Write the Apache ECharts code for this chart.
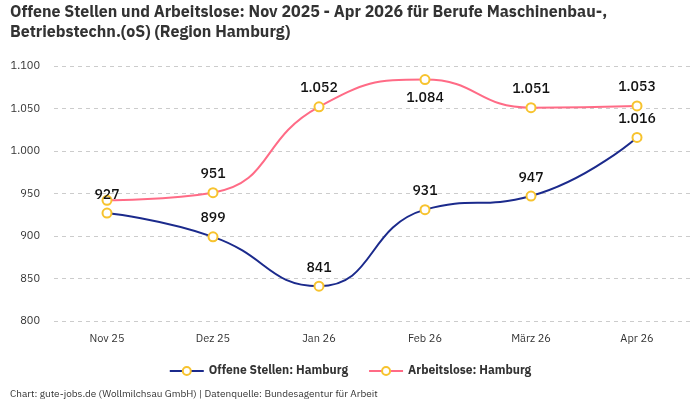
<!DOCTYPE html>
<html>
<head>
<meta charset="utf-8">
<script src="https://cdn.jsdelivr.net/npm/echarts@6/dist/echarts.min.js"></script>
<style>
  html, body { margin: 0; padding: 0; background: #fff; }
  #chart { width: 700px; height: 400px; }
</style>
</head>
<body>
<div id="chart"></div>
<script>
const months = ["Nov 25", "Dez 25", "Jan 26", "Feb 26", "März 26", "Apr 26"];
const offeneStellen = [927, 899, 841, 931, 947, 1016];
const arbeitslose = [942, 951, 1052, 1084, 1051, 1053];
const yTicks = { min: 800, max: 1100, interval: 50 };

const fmt = (v) => String(v).replace(/\B(?=(\d{3})+(?!\d))/g, ".");
const font = "'IBM Plex Sans', 'Noto Sans', sans-serif";

const chart = echarts.init(document.getElementById("chart"), null, { renderer: "canvas" });

const labelStyle = {
  show: true,
  position: "top",
  distance: 6,
  color: "#111",
  fontSize: 14,
  fontWeight: 500,
  fontFamily: font,
  formatter: (p) => fmt(p.value)
};

const option = {
  animation: false,
  textStyle: { fontFamily: font },
  title: {
    text: "Offene Stellen und Arbeitslose: Nov 2025 - Apr 2026 für Berufe Maschinenbau-,\nBetriebstechn.(oS) (Region Hamburg)",
    left: 5,
    top: -3,
    textStyle: { fontSize: 16, fontWeight: "bold", color: "#333", lineHeight: 20, fontFamily: font }
  },
  grid: { left: 54, right: 10, top: 66, bottom: 79 },
  legend: {
    bottom: 18,
    left: "center",
    itemWidth: 34,
    itemHeight: 10,
    itemGap: 20,
    textStyle: { fontSize: 12, fontWeight: "bold", color: "#333" },
    data: ["Offene Stellen: Hamburg", "Arbeitslose: Hamburg"]
  },
  xAxis: {
    type: "category",
    data: months,
    axisLine: { show: false },
    axisTick: { show: false },
    axisLabel: { color: "#333", fontSize: 11, margin: 12 }
  },
  yAxis: {
    type: "value",
    min: yTicks.min,
    max: yTicks.max,
    interval: yTicks.interval,
    axisLabel: { color: "#333", fontSize: 11, margin: 14, formatter: fmt },
    splitLine: { lineStyle: { color: "#ccc", type: [4, 4] } }
  },
  graphic: [{
    type: "text",
    left: 10,
    bottom: 1,
    style: { text: "Chart: gute-jobs.de (Wollmilchsau GmbH) | Datenquelle: Bundesagentur für Arbeit", fill: "#333", fontSize: 10, fontFamily: font }
  }],
  series: [
    {
      name: "Offene Stellen: Hamburg",
      type: "line",
      smooth: true,
      data: offeneStellen,
      symbol: "emptyCircle",
      symbolSize: 9,
      lineStyle: { color: "#1b2a8c", width: 2 },
      itemStyle: { color: "#f7c32e", borderWidth: 2 },
      label: labelStyle,
      z: 3
    },
    {
      name: "Arbeitslose: Hamburg",
      type: "line",
      smooth: true,
      data: arbeitslose.map((v, i) => i === 0 ? { value: v, label: { show: false } }
        : i === 3 ? { value: v, label: { position: "bottom" } } : v),
      symbol: "emptyCircle",
      symbolSize: 9,
      lineStyle: { color: "#ff6b86", width: 2 },
      itemStyle: { color: "#f7c32e", borderWidth: 2 },
      label: labelStyle,
      z: 2
    }
  ]
};

chart.setOption(option);
</script>
</body>
</html>
